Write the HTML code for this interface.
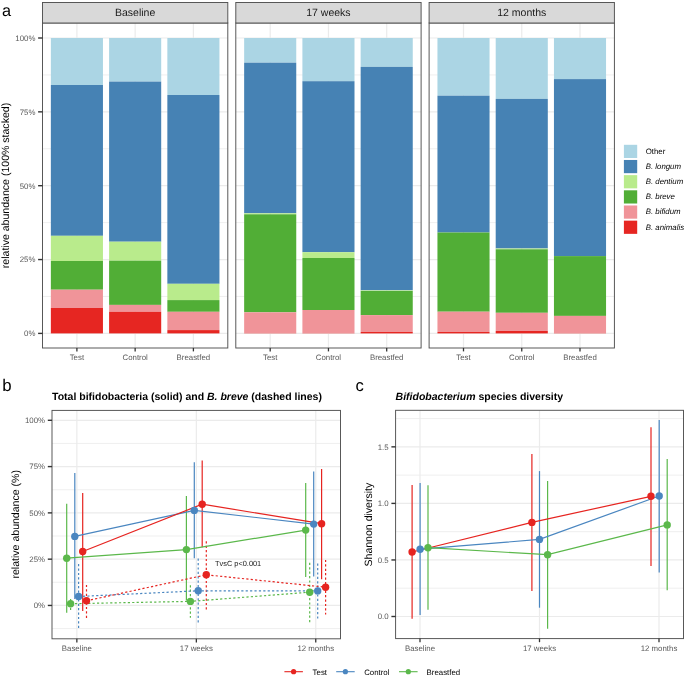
<!DOCTYPE html>
<html><head><meta charset="utf-8"><style>
html,body{margin:0;padding:0;background:#fff;}
body{width:685px;height:677px;overflow:hidden;}
svg{display:block;font-family:"Liberation Sans", sans-serif;will-change:transform;text-rendering:geometricPrecision;}
</style></head><body>
<svg width="685" height="677" viewBox="0 0 685 677">
<rect x="0" y="0" width="685" height="677" fill="#FFFFFF"/>
<text x="2.00" y="16.20" font-size="16.3" text-anchor="start" fill="#000" font-weight="normal" font-style="normal" >a</text>
<rect x="42.50" y="23.00" width="185.30" height="325.00" fill="#FFFFFF" />
<line x1="42.50" y1="296.47" x2="227.80" y2="296.47" stroke="#EBEBEB" stroke-width="0.8" />
<line x1="42.50" y1="222.62" x2="227.80" y2="222.62" stroke="#EBEBEB" stroke-width="0.8" />
<line x1="42.50" y1="148.77" x2="227.80" y2="148.77" stroke="#EBEBEB" stroke-width="0.8" />
<line x1="42.50" y1="74.93" x2="227.80" y2="74.93" stroke="#EBEBEB" stroke-width="0.8" />
<line x1="42.50" y1="333.40" x2="227.80" y2="333.40" stroke="#EBEBEB" stroke-width="1.2" />
<line x1="42.50" y1="259.55" x2="227.80" y2="259.55" stroke="#EBEBEB" stroke-width="1.2" />
<line x1="42.50" y1="185.70" x2="227.80" y2="185.70" stroke="#EBEBEB" stroke-width="1.2" />
<line x1="42.50" y1="111.85" x2="227.80" y2="111.85" stroke="#EBEBEB" stroke-width="1.2" />
<line x1="42.50" y1="38.00" x2="227.80" y2="38.00" stroke="#EBEBEB" stroke-width="1.2" />
<line x1="76.90" y1="23.00" x2="76.90" y2="348.00" stroke="#EBEBEB" stroke-width="1.2" />
<line x1="135.15" y1="23.00" x2="135.15" y2="348.00" stroke="#EBEBEB" stroke-width="1.2" />
<line x1="193.40" y1="23.00" x2="193.40" y2="348.00" stroke="#EBEBEB" stroke-width="1.2" />
<rect x="50.85" y="38.00" width="52.10" height="47.00" fill="#ABD5E4" />
<rect x="50.85" y="85.00" width="52.10" height="150.80" fill="#4682B4" />
<rect x="50.85" y="235.80" width="52.10" height="25.20" fill="#B9EB8C" />
<rect x="50.85" y="261.00" width="52.10" height="28.70" fill="#51AE36" />
<rect x="50.85" y="289.70" width="52.10" height="18.30" fill="#F09499" />
<rect x="50.85" y="308.00" width="52.10" height="25.40" fill="#E62622" />
<rect x="109.10" y="38.00" width="52.10" height="43.60" fill="#ABD5E4" />
<rect x="109.10" y="81.60" width="52.10" height="160.10" fill="#4682B4" />
<rect x="109.10" y="241.70" width="52.10" height="19.00" fill="#B9EB8C" />
<rect x="109.10" y="260.70" width="52.10" height="44.20" fill="#51AE36" />
<rect x="109.10" y="304.90" width="52.10" height="6.90" fill="#F09499" />
<rect x="109.10" y="311.80" width="52.10" height="21.60" fill="#E62622" />
<rect x="167.35" y="38.00" width="52.10" height="57.00" fill="#ABD5E4" />
<rect x="167.35" y="95.00" width="52.10" height="188.80" fill="#4682B4" />
<rect x="167.35" y="283.80" width="52.10" height="16.30" fill="#B9EB8C" />
<rect x="167.35" y="300.10" width="52.10" height="11.70" fill="#51AE36" />
<rect x="167.35" y="311.80" width="52.10" height="18.30" fill="#F09499" />
<rect x="167.35" y="330.10" width="52.10" height="3.30" fill="#E62622" />
<rect x="42.50" y="23.00" width="185.30" height="325.00" fill="none" stroke="#505050" stroke-width="0.95"/>
<rect x="42.50" y="2.50" width="185.30" height="20.50" fill="#D9D9D9" stroke="#505050" stroke-width="0.95"/>
<text x="135.15" y="15.80" font-size="10.5" text-anchor="middle" fill="#1A1A1A" font-weight="normal" font-style="normal" >Baseline</text>
<line x1="76.90" y1="348.00" x2="76.90" y2="351.40" stroke="#333333" stroke-width="1.3" />
<text x="76.90" y="360.40" font-size="7.85" text-anchor="middle" fill="#5A5A5A" font-weight="normal" font-style="normal" >Test</text>
<line x1="135.15" y1="348.00" x2="135.15" y2="351.40" stroke="#333333" stroke-width="1.3" />
<text x="135.15" y="360.40" font-size="7.85" text-anchor="middle" fill="#5A5A5A" font-weight="normal" font-style="normal" >Control</text>
<line x1="193.40" y1="348.00" x2="193.40" y2="351.40" stroke="#333333" stroke-width="1.3" />
<text x="193.40" y="360.40" font-size="7.85" text-anchor="middle" fill="#5A5A5A" font-weight="normal" font-style="normal" >Breastfed</text>
<rect x="235.80" y="23.00" width="185.30" height="325.00" fill="#FFFFFF" />
<line x1="235.80" y1="296.47" x2="421.10" y2="296.47" stroke="#EBEBEB" stroke-width="0.8" />
<line x1="235.80" y1="222.62" x2="421.10" y2="222.62" stroke="#EBEBEB" stroke-width="0.8" />
<line x1="235.80" y1="148.77" x2="421.10" y2="148.77" stroke="#EBEBEB" stroke-width="0.8" />
<line x1="235.80" y1="74.93" x2="421.10" y2="74.93" stroke="#EBEBEB" stroke-width="0.8" />
<line x1="235.80" y1="333.40" x2="421.10" y2="333.40" stroke="#EBEBEB" stroke-width="1.2" />
<line x1="235.80" y1="259.55" x2="421.10" y2="259.55" stroke="#EBEBEB" stroke-width="1.2" />
<line x1="235.80" y1="185.70" x2="421.10" y2="185.70" stroke="#EBEBEB" stroke-width="1.2" />
<line x1="235.80" y1="111.85" x2="421.10" y2="111.85" stroke="#EBEBEB" stroke-width="1.2" />
<line x1="235.80" y1="38.00" x2="421.10" y2="38.00" stroke="#EBEBEB" stroke-width="1.2" />
<line x1="270.20" y1="23.00" x2="270.20" y2="348.00" stroke="#EBEBEB" stroke-width="1.2" />
<line x1="328.45" y1="23.00" x2="328.45" y2="348.00" stroke="#EBEBEB" stroke-width="1.2" />
<line x1="386.70" y1="23.00" x2="386.70" y2="348.00" stroke="#EBEBEB" stroke-width="1.2" />
<rect x="244.15" y="38.00" width="52.10" height="24.70" fill="#ABD5E4" />
<rect x="244.15" y="62.70" width="52.10" height="150.60" fill="#4682B4" />
<rect x="244.15" y="213.30" width="52.10" height="1.00" fill="#B9EB8C" />
<rect x="244.15" y="214.30" width="52.10" height="98.00" fill="#51AE36" />
<rect x="244.15" y="312.30" width="52.10" height="20.90" fill="#F09499" />
<rect x="244.15" y="333.20" width="52.10" height="0.20" fill="#E62622" />
<rect x="302.40" y="38.00" width="52.10" height="43.20" fill="#ABD5E4" />
<rect x="302.40" y="81.20" width="52.10" height="171.00" fill="#4682B4" />
<rect x="302.40" y="252.20" width="52.10" height="5.80" fill="#B9EB8C" />
<rect x="302.40" y="258.00" width="52.10" height="52.00" fill="#51AE36" />
<rect x="302.40" y="310.00" width="52.10" height="23.20" fill="#F09499" />
<rect x="302.40" y="333.20" width="52.10" height="0.20" fill="#E62622" />
<rect x="360.65" y="38.00" width="52.10" height="28.90" fill="#ABD5E4" />
<rect x="360.65" y="66.90" width="52.10" height="223.50" fill="#4682B4" />
<rect x="360.65" y="290.40" width="52.10" height="0.60" fill="#B9EB8C" />
<rect x="360.65" y="291.00" width="52.10" height="24.10" fill="#51AE36" />
<rect x="360.65" y="315.10" width="52.10" height="16.90" fill="#F09499" />
<rect x="360.65" y="332.00" width="52.10" height="1.40" fill="#E62622" />
<rect x="235.80" y="23.00" width="185.30" height="325.00" fill="none" stroke="#505050" stroke-width="0.95"/>
<rect x="235.80" y="2.50" width="185.30" height="20.50" fill="#D9D9D9" stroke="#505050" stroke-width="0.95"/>
<text x="328.45" y="15.80" font-size="10.5" text-anchor="middle" fill="#1A1A1A" font-weight="normal" font-style="normal" >17 weeks</text>
<line x1="270.20" y1="348.00" x2="270.20" y2="351.40" stroke="#333333" stroke-width="1.3" />
<text x="270.20" y="360.40" font-size="7.85" text-anchor="middle" fill="#5A5A5A" font-weight="normal" font-style="normal" >Test</text>
<line x1="328.45" y1="348.00" x2="328.45" y2="351.40" stroke="#333333" stroke-width="1.3" />
<text x="328.45" y="360.40" font-size="7.85" text-anchor="middle" fill="#5A5A5A" font-weight="normal" font-style="normal" >Control</text>
<line x1="386.70" y1="348.00" x2="386.70" y2="351.40" stroke="#333333" stroke-width="1.3" />
<text x="386.70" y="360.40" font-size="7.85" text-anchor="middle" fill="#5A5A5A" font-weight="normal" font-style="normal" >Breastfed</text>
<rect x="429.10" y="23.00" width="185.30" height="325.00" fill="#FFFFFF" />
<line x1="429.10" y1="296.47" x2="614.40" y2="296.47" stroke="#EBEBEB" stroke-width="0.8" />
<line x1="429.10" y1="222.62" x2="614.40" y2="222.62" stroke="#EBEBEB" stroke-width="0.8" />
<line x1="429.10" y1="148.77" x2="614.40" y2="148.77" stroke="#EBEBEB" stroke-width="0.8" />
<line x1="429.10" y1="74.93" x2="614.40" y2="74.93" stroke="#EBEBEB" stroke-width="0.8" />
<line x1="429.10" y1="333.40" x2="614.40" y2="333.40" stroke="#EBEBEB" stroke-width="1.2" />
<line x1="429.10" y1="259.55" x2="614.40" y2="259.55" stroke="#EBEBEB" stroke-width="1.2" />
<line x1="429.10" y1="185.70" x2="614.40" y2="185.70" stroke="#EBEBEB" stroke-width="1.2" />
<line x1="429.10" y1="111.85" x2="614.40" y2="111.85" stroke="#EBEBEB" stroke-width="1.2" />
<line x1="429.10" y1="38.00" x2="614.40" y2="38.00" stroke="#EBEBEB" stroke-width="1.2" />
<line x1="463.50" y1="23.00" x2="463.50" y2="348.00" stroke="#EBEBEB" stroke-width="1.2" />
<line x1="521.75" y1="23.00" x2="521.75" y2="348.00" stroke="#EBEBEB" stroke-width="1.2" />
<line x1="580.00" y1="23.00" x2="580.00" y2="348.00" stroke="#EBEBEB" stroke-width="1.2" />
<rect x="437.45" y="38.00" width="52.10" height="57.70" fill="#ABD5E4" />
<rect x="437.45" y="95.70" width="52.10" height="136.80" fill="#4682B4" />
<rect x="437.45" y="232.50" width="52.10" height="79.20" fill="#51AE36" />
<rect x="437.45" y="311.70" width="52.10" height="20.30" fill="#F09499" />
<rect x="437.45" y="332.00" width="52.10" height="1.40" fill="#E62622" />
<rect x="495.70" y="38.00" width="52.10" height="60.90" fill="#ABD5E4" />
<rect x="495.70" y="98.90" width="52.10" height="149.60" fill="#4682B4" />
<rect x="495.70" y="248.50" width="52.10" height="0.80" fill="#B9EB8C" />
<rect x="495.70" y="249.30" width="52.10" height="63.50" fill="#51AE36" />
<rect x="495.70" y="312.80" width="52.10" height="18.20" fill="#F09499" />
<rect x="495.70" y="331.00" width="52.10" height="2.40" fill="#E62622" />
<rect x="553.95" y="38.00" width="52.10" height="41.10" fill="#ABD5E4" />
<rect x="553.95" y="79.10" width="52.10" height="177.00" fill="#4682B4" />
<rect x="553.95" y="256.10" width="52.10" height="59.80" fill="#51AE36" />
<rect x="553.95" y="315.90" width="52.10" height="17.30" fill="#F09499" />
<rect x="553.95" y="333.20" width="52.10" height="0.20" fill="#E62622" />
<rect x="429.10" y="23.00" width="185.30" height="325.00" fill="none" stroke="#505050" stroke-width="0.95"/>
<rect x="429.10" y="2.50" width="185.30" height="20.50" fill="#D9D9D9" stroke="#505050" stroke-width="0.95"/>
<text x="521.75" y="15.80" font-size="10.5" text-anchor="middle" fill="#1A1A1A" font-weight="normal" font-style="normal" >12 months</text>
<line x1="463.50" y1="348.00" x2="463.50" y2="351.40" stroke="#333333" stroke-width="1.3" />
<text x="463.50" y="360.40" font-size="7.85" text-anchor="middle" fill="#5A5A5A" font-weight="normal" font-style="normal" >Test</text>
<line x1="521.75" y1="348.00" x2="521.75" y2="351.40" stroke="#333333" stroke-width="1.3" />
<text x="521.75" y="360.40" font-size="7.85" text-anchor="middle" fill="#5A5A5A" font-weight="normal" font-style="normal" >Control</text>
<line x1="580.00" y1="348.00" x2="580.00" y2="351.40" stroke="#333333" stroke-width="1.3" />
<text x="580.00" y="360.40" font-size="7.85" text-anchor="middle" fill="#5A5A5A" font-weight="normal" font-style="normal" >Breastfed</text>
<line x1="38.10" y1="38.00" x2="42.50" y2="38.00" stroke="#333333" stroke-width="1.4" />
<text x="35.40" y="40.80" font-size="7.85" text-anchor="end" fill="#5A5A5A" font-weight="normal" font-style="normal" >100%</text>
<line x1="38.10" y1="111.85" x2="42.50" y2="111.85" stroke="#333333" stroke-width="1.4" />
<text x="35.40" y="114.65" font-size="7.85" text-anchor="end" fill="#5A5A5A" font-weight="normal" font-style="normal" >75%</text>
<line x1="38.10" y1="185.70" x2="42.50" y2="185.70" stroke="#333333" stroke-width="1.4" />
<text x="35.40" y="188.50" font-size="7.85" text-anchor="end" fill="#5A5A5A" font-weight="normal" font-style="normal" >50%</text>
<line x1="38.10" y1="259.55" x2="42.50" y2="259.55" stroke="#333333" stroke-width="1.4" />
<text x="35.40" y="262.35" font-size="7.85" text-anchor="end" fill="#5A5A5A" font-weight="normal" font-style="normal" >25%</text>
<line x1="38.10" y1="333.40" x2="42.50" y2="333.40" stroke="#333333" stroke-width="1.4" />
<text x="35.40" y="336.20" font-size="7.85" text-anchor="end" fill="#5A5A5A" font-weight="normal" font-style="normal" >0%</text>
<text x="0.00" y="0.00" font-size="10.56" text-anchor="middle" fill="#000" font-weight="normal" font-style="normal" transform="translate(9.4 185.5) rotate(-90)">relative abundance (100% stacked)</text>
<rect x="623.90" y="144.80" width="13.30" height="13.20" fill="#ABD5E4" />
<text x="645.70" y="153.65" font-size="7.85" text-anchor="start" fill="#000" font-weight="normal" font-style="normal" >Other</text>
<rect x="623.90" y="159.97" width="13.30" height="13.20" fill="#4682B4" />
<text x="645.70" y="168.82" font-size="7.85" text-anchor="start" fill="#000" font-weight="normal" font-style="italic" >B. longum</text>
<rect x="623.90" y="175.14" width="13.30" height="13.20" fill="#B9EB8C" />
<text x="645.70" y="183.99" font-size="7.85" text-anchor="start" fill="#000" font-weight="normal" font-style="italic" >B. dentium</text>
<rect x="623.90" y="190.31" width="13.30" height="13.20" fill="#51AE36" />
<text x="645.70" y="199.16" font-size="7.85" text-anchor="start" fill="#000" font-weight="normal" font-style="italic" >B. breve</text>
<rect x="623.90" y="205.48" width="13.30" height="13.20" fill="#F09499" />
<text x="645.70" y="214.33" font-size="7.85" text-anchor="start" fill="#000" font-weight="normal" font-style="italic" >B. bifidum</text>
<rect x="623.90" y="220.65" width="13.30" height="13.20" fill="#E62622" />
<text x="645.70" y="229.50" font-size="7.85" text-anchor="start" fill="#000" font-weight="normal" font-style="italic" >B. animalis</text>
<text x="2.20" y="390.80" font-size="16.8" text-anchor="start" fill="#000" font-weight="normal" font-style="normal" >b</text>
<rect x="52.00" y="410.40" width="288.50" height="228.40" fill="#FFFFFF" />
<line x1="52.00" y1="628.59" x2="340.50" y2="628.59" stroke="#EBEBEB" stroke-width="0.8" />
<line x1="52.00" y1="582.31" x2="340.50" y2="582.31" stroke="#EBEBEB" stroke-width="0.8" />
<line x1="52.00" y1="536.02" x2="340.50" y2="536.02" stroke="#EBEBEB" stroke-width="0.8" />
<line x1="52.00" y1="489.73" x2="340.50" y2="489.73" stroke="#EBEBEB" stroke-width="0.8" />
<line x1="52.00" y1="443.44" x2="340.50" y2="443.44" stroke="#EBEBEB" stroke-width="0.8" />
<line x1="52.00" y1="605.45" x2="340.50" y2="605.45" stroke="#EBEBEB" stroke-width="1.2" />
<line x1="52.00" y1="559.16" x2="340.50" y2="559.16" stroke="#EBEBEB" stroke-width="1.2" />
<line x1="52.00" y1="512.88" x2="340.50" y2="512.88" stroke="#EBEBEB" stroke-width="1.2" />
<line x1="52.00" y1="466.59" x2="340.50" y2="466.59" stroke="#EBEBEB" stroke-width="1.2" />
<line x1="52.00" y1="420.30" x2="340.50" y2="420.30" stroke="#EBEBEB" stroke-width="1.2" />
<line x1="76.85" y1="410.40" x2="76.85" y2="638.80" stroke="#EBEBEB" stroke-width="1.2" />
<line x1="196.35" y1="410.40" x2="196.35" y2="638.80" stroke="#EBEBEB" stroke-width="1.2" />
<line x1="315.75" y1="410.40" x2="315.75" y2="638.80" stroke="#EBEBEB" stroke-width="1.2" />
<line x1="66.70" y1="503.80" x2="66.70" y2="612.70" stroke="#5BB84B" stroke-width="1.2" />
<line x1="186.40" y1="496.10" x2="186.40" y2="600.40" stroke="#5BB84B" stroke-width="1.2" />
<line x1="305.70" y1="482.90" x2="305.70" y2="576.90" stroke="#5BB84B" stroke-width="1.2" />
<line x1="70.60" y1="599.00" x2="70.60" y2="610.00" stroke="#5BB84B" stroke-width="1.2" stroke-dasharray="2.2 2.2"/>
<line x1="190.40" y1="585.20" x2="190.40" y2="617.70" stroke="#5BB84B" stroke-width="1.2" stroke-dasharray="2.2 2.2"/>
<line x1="309.70" y1="562.80" x2="309.70" y2="623.70" stroke="#5BB84B" stroke-width="1.2" stroke-dasharray="2.2 2.2"/>
<line x1="74.80" y1="473.00" x2="74.80" y2="599.00" stroke="#4A86C0" stroke-width="1.2" />
<line x1="194.30" y1="462.20" x2="194.30" y2="558.30" stroke="#4A86C0" stroke-width="1.2" />
<line x1="313.70" y1="471.50" x2="313.70" y2="576.50" stroke="#4A86C0" stroke-width="1.2" />
<line x1="78.60" y1="564.10" x2="78.60" y2="628.60" stroke="#4A86C0" stroke-width="1.2" stroke-dasharray="2.2 2.2"/>
<line x1="198.20" y1="558.60" x2="198.20" y2="623.70" stroke="#4A86C0" stroke-width="1.2" stroke-dasharray="2.2 2.2"/>
<line x1="317.70" y1="563.60" x2="317.70" y2="618.40" stroke="#4A86C0" stroke-width="1.2" stroke-dasharray="2.2 2.2"/>
<line x1="82.70" y1="492.90" x2="82.70" y2="610.90" stroke="#E62420" stroke-width="1.2" />
<line x1="202.20" y1="460.40" x2="202.20" y2="547.30" stroke="#E62420" stroke-width="1.2" />
<line x1="321.60" y1="469.00" x2="321.60" y2="579.20" stroke="#E62420" stroke-width="1.2" />
<line x1="86.50" y1="584.90" x2="86.50" y2="618.60" stroke="#E62420" stroke-width="1.2" stroke-dasharray="2.2 2.2"/>
<line x1="206.30" y1="541.30" x2="206.30" y2="610.40" stroke="#E62420" stroke-width="1.2" stroke-dasharray="2.2 2.2"/>
<line x1="325.60" y1="559.90" x2="325.60" y2="614.40" stroke="#E62420" stroke-width="1.2" stroke-dasharray="2.2 2.2"/>
<polyline points="66.70,558.20 186.40,549.60 305.70,530.10" fill="none" stroke="#5BB84B" stroke-width="1.2" />
<polyline points="70.60,603.70 190.40,601.40 309.70,592.20" fill="none" stroke="#5BB84B" stroke-width="1.2" stroke-dasharray="2.2 2.2"/>
<polyline points="74.80,536.40 194.30,510.40 313.70,524.10" fill="none" stroke="#4A86C0" stroke-width="1.2" />
<polyline points="78.60,596.50 198.20,590.80 317.70,590.90" fill="none" stroke="#4A86C0" stroke-width="1.2" stroke-dasharray="2.2 2.2"/>
<polyline points="82.70,551.50 202.20,504.20 321.60,523.70" fill="none" stroke="#E62420" stroke-width="1.2" />
<polyline points="86.50,600.80 206.30,574.80 325.60,587.20" fill="none" stroke="#E62420" stroke-width="1.2" stroke-dasharray="2.2 2.2"/>
<circle cx="66.70" cy="558.20" r="3.7" fill="#5BB84B"/>
<circle cx="186.40" cy="549.60" r="3.7" fill="#5BB84B"/>
<circle cx="305.70" cy="530.10" r="3.7" fill="#5BB84B"/>
<circle cx="70.60" cy="603.70" r="3.7" fill="#5BB84B"/>
<circle cx="190.40" cy="601.40" r="3.7" fill="#5BB84B"/>
<circle cx="309.70" cy="592.20" r="3.7" fill="#5BB84B"/>
<circle cx="74.80" cy="536.40" r="3.7" fill="#4A86C0"/>
<circle cx="194.30" cy="510.40" r="3.7" fill="#4A86C0"/>
<circle cx="313.70" cy="524.10" r="3.7" fill="#4A86C0"/>
<circle cx="78.60" cy="596.50" r="3.7" fill="#4A86C0"/>
<circle cx="198.20" cy="590.80" r="3.7" fill="#4A86C0"/>
<circle cx="317.70" cy="590.90" r="3.7" fill="#4A86C0"/>
<circle cx="82.70" cy="551.50" r="3.7" fill="#E62420"/>
<circle cx="202.20" cy="504.20" r="3.7" fill="#E62420"/>
<circle cx="321.60" cy="523.70" r="3.7" fill="#E62420"/>
<circle cx="86.50" cy="600.80" r="3.7" fill="#E62420"/>
<circle cx="206.30" cy="574.80" r="3.7" fill="#E62420"/>
<circle cx="325.60" cy="587.20" r="3.7" fill="#E62420"/>
<rect x="52.00" y="410.40" width="288.50" height="228.40" fill="none" stroke="#505050" stroke-width="0.95"/>
<text x="215.00" y="565.80" font-size="7.4" text-anchor="start" fill="#1A1A1A" font-weight="normal" font-style="normal" >TvsC p&lt;0.001</text>
<line x1="47.80" y1="420.30" x2="52.00" y2="420.30" stroke="#333333" stroke-width="1.4" />
<text x="45.00" y="423.10" font-size="7.85" text-anchor="end" fill="#5A5A5A" font-weight="normal" font-style="normal" >100%</text>
<line x1="47.80" y1="466.59" x2="52.00" y2="466.59" stroke="#333333" stroke-width="1.4" />
<text x="45.00" y="469.39" font-size="7.85" text-anchor="end" fill="#5A5A5A" font-weight="normal" font-style="normal" >75%</text>
<line x1="47.80" y1="512.88" x2="52.00" y2="512.88" stroke="#333333" stroke-width="1.4" />
<text x="45.00" y="515.67" font-size="7.85" text-anchor="end" fill="#5A5A5A" font-weight="normal" font-style="normal" >50%</text>
<line x1="47.80" y1="559.16" x2="52.00" y2="559.16" stroke="#333333" stroke-width="1.4" />
<text x="45.00" y="561.96" font-size="7.85" text-anchor="end" fill="#5A5A5A" font-weight="normal" font-style="normal" >25%</text>
<line x1="47.80" y1="605.45" x2="52.00" y2="605.45" stroke="#333333" stroke-width="1.4" />
<text x="45.00" y="608.25" font-size="7.85" text-anchor="end" fill="#5A5A5A" font-weight="normal" font-style="normal" >0%</text>
<line x1="76.85" y1="638.80" x2="76.85" y2="642.40" stroke="#333333" stroke-width="1.3" />
<text x="76.85" y="650.90" font-size="7.85" text-anchor="middle" fill="#5A5A5A" font-weight="normal" font-style="normal" >Baseline</text>
<line x1="196.35" y1="638.80" x2="196.35" y2="642.40" stroke="#333333" stroke-width="1.3" />
<text x="196.35" y="650.90" font-size="7.85" text-anchor="middle" fill="#5A5A5A" font-weight="normal" font-style="normal" >17 weeks</text>
<line x1="315.75" y1="638.80" x2="315.75" y2="642.40" stroke="#333333" stroke-width="1.3" />
<text x="315.75" y="650.90" font-size="7.85" text-anchor="middle" fill="#5A5A5A" font-weight="normal" font-style="normal" >12 months</text>
<text x="0.00" y="0.00" font-size="10.56" text-anchor="middle" fill="#000" font-weight="normal" font-style="normal" transform="translate(19.0 524.3) rotate(-90)">relative abundance (%)</text>
<text x="52.0" y="400.2" font-size="10.5" font-weight="bold" fill="#000">Total bifidobacteria (solid) and <tspan font-style="italic">B. breve</tspan> (dashed lines)</text>
<text x="355.40" y="390.70" font-size="16.6" text-anchor="start" fill="#000" font-weight="normal" font-style="normal" >c</text>
<rect x="395.60" y="410.30" width="287.90" height="228.30" fill="#FFFFFF" />
<line x1="395.60" y1="588.23" x2="683.50" y2="588.23" stroke="#EBEBEB" stroke-width="0.8" />
<line x1="395.60" y1="531.67" x2="683.50" y2="531.67" stroke="#EBEBEB" stroke-width="0.8" />
<line x1="395.60" y1="475.12" x2="683.50" y2="475.12" stroke="#EBEBEB" stroke-width="0.8" />
<line x1="395.60" y1="418.58" x2="683.50" y2="418.58" stroke="#EBEBEB" stroke-width="0.8" />
<line x1="395.60" y1="616.50" x2="683.50" y2="616.50" stroke="#EBEBEB" stroke-width="1.2" />
<line x1="395.60" y1="559.95" x2="683.50" y2="559.95" stroke="#EBEBEB" stroke-width="1.2" />
<line x1="395.60" y1="503.40" x2="683.50" y2="503.40" stroke="#EBEBEB" stroke-width="1.2" />
<line x1="395.60" y1="446.85" x2="683.50" y2="446.85" stroke="#EBEBEB" stroke-width="1.2" />
<line x1="420.00" y1="410.30" x2="420.00" y2="638.60" stroke="#EBEBEB" stroke-width="1.2" />
<line x1="539.50" y1="410.30" x2="539.50" y2="638.60" stroke="#EBEBEB" stroke-width="1.2" />
<line x1="659.00" y1="410.30" x2="659.00" y2="638.60" stroke="#EBEBEB" stroke-width="1.2" />
<line x1="412.10" y1="485.00" x2="412.10" y2="618.70" stroke="#E62420" stroke-width="1.2" />
<line x1="531.90" y1="454.10" x2="531.90" y2="591.00" stroke="#E62420" stroke-width="1.2" />
<line x1="651.00" y1="427.30" x2="651.00" y2="565.90" stroke="#E62420" stroke-width="1.2" />
<line x1="420.10" y1="483.00" x2="420.10" y2="614.90" stroke="#4A86C0" stroke-width="1.2" />
<line x1="539.50" y1="471.10" x2="539.50" y2="607.70" stroke="#4A86C0" stroke-width="1.2" />
<line x1="659.20" y1="419.90" x2="659.20" y2="572.40" stroke="#4A86C0" stroke-width="1.2" />
<line x1="428.00" y1="485.30" x2="428.00" y2="609.70" stroke="#5BB84B" stroke-width="1.2" />
<line x1="547.60" y1="481.00" x2="547.60" y2="628.70" stroke="#5BB84B" stroke-width="1.2" />
<line x1="667.20" y1="459.10" x2="667.20" y2="590.20" stroke="#5BB84B" stroke-width="1.2" />
<polyline points="412.10,552.00 531.90,522.40 651.00,496.30" fill="none" stroke="#E62420" stroke-width="1.2" />
<polyline points="420.10,549.20 539.50,539.40 659.20,496.00" fill="none" stroke="#4A86C0" stroke-width="1.2" />
<polyline points="428.00,547.70 547.60,554.70 667.20,524.90" fill="none" stroke="#5BB84B" stroke-width="1.2" />
<circle cx="412.10" cy="552.00" r="3.7" fill="#E62420"/>
<circle cx="531.90" cy="522.40" r="3.7" fill="#E62420"/>
<circle cx="651.00" cy="496.30" r="3.7" fill="#E62420"/>
<circle cx="420.10" cy="549.20" r="3.7" fill="#4A86C0"/>
<circle cx="539.50" cy="539.40" r="3.7" fill="#4A86C0"/>
<circle cx="659.20" cy="496.00" r="3.7" fill="#4A86C0"/>
<circle cx="428.00" cy="547.70" r="3.7" fill="#5BB84B"/>
<circle cx="547.60" cy="554.70" r="3.7" fill="#5BB84B"/>
<circle cx="667.20" cy="524.90" r="3.7" fill="#5BB84B"/>
<rect x="395.60" y="410.30" width="287.90" height="228.30" fill="none" stroke="#505050" stroke-width="0.95"/>
<line x1="391.40" y1="446.85" x2="395.60" y2="446.85" stroke="#333333" stroke-width="1.4" />
<text x="388.60" y="449.65" font-size="7.85" text-anchor="end" fill="#5A5A5A" font-weight="normal" font-style="normal" >1.5</text>
<line x1="391.40" y1="503.40" x2="395.60" y2="503.40" stroke="#333333" stroke-width="1.4" />
<text x="388.60" y="506.20" font-size="7.85" text-anchor="end" fill="#5A5A5A" font-weight="normal" font-style="normal" >1.0</text>
<line x1="391.40" y1="559.95" x2="395.60" y2="559.95" stroke="#333333" stroke-width="1.4" />
<text x="388.60" y="562.75" font-size="7.85" text-anchor="end" fill="#5A5A5A" font-weight="normal" font-style="normal" >0.5</text>
<line x1="391.40" y1="616.50" x2="395.60" y2="616.50" stroke="#333333" stroke-width="1.4" />
<text x="388.60" y="619.30" font-size="7.85" text-anchor="end" fill="#5A5A5A" font-weight="normal" font-style="normal" >0.0</text>
<line x1="420.00" y1="638.60" x2="420.00" y2="642.20" stroke="#333333" stroke-width="1.3" />
<text x="420.00" y="650.90" font-size="7.85" text-anchor="middle" fill="#5A5A5A" font-weight="normal" font-style="normal" >Baseline</text>
<line x1="539.50" y1="638.60" x2="539.50" y2="642.20" stroke="#333333" stroke-width="1.3" />
<text x="539.50" y="650.90" font-size="7.85" text-anchor="middle" fill="#5A5A5A" font-weight="normal" font-style="normal" >17 weeks</text>
<line x1="659.00" y1="638.60" x2="659.00" y2="642.20" stroke="#333333" stroke-width="1.3" />
<text x="659.00" y="650.90" font-size="7.85" text-anchor="middle" fill="#5A5A5A" font-weight="normal" font-style="normal" >12 months</text>
<text x="0.00" y="0.00" font-size="10.56" text-anchor="middle" fill="#000" font-weight="normal" font-style="normal" transform="translate(371.8 524.6) rotate(-90)">Shannon diversity</text>
<text x="395.6" y="400.2" font-size="10.5" font-weight="bold" fill="#000"><tspan font-style="italic">Bifidobacterium</tspan> species diversity</text>
<line x1="284.40" y1="671.70" x2="302.90" y2="671.70" stroke="#E62420" stroke-width="1.1" />
<circle cx="293.60" cy="671.7" r="2.6" fill="#E62420"/>
<text x="312.60" y="674.70" font-size="7.85" text-anchor="start" fill="#000" font-weight="normal" font-style="normal" >Test</text>
<line x1="336.20" y1="671.70" x2="354.70" y2="671.70" stroke="#4A86C0" stroke-width="1.1" />
<circle cx="345.40" cy="671.7" r="2.6" fill="#4A86C0"/>
<text x="364.20" y="674.70" font-size="7.85" text-anchor="start" fill="#000" font-weight="normal" font-style="normal" >Control</text>
<line x1="399.00" y1="671.70" x2="417.60" y2="671.70" stroke="#5BB84B" stroke-width="1.1" />
<circle cx="408.30" cy="671.7" r="2.6" fill="#5BB84B"/>
<text x="426.60" y="674.70" font-size="7.85" text-anchor="start" fill="#000" font-weight="normal" font-style="normal" >Breastfed</text>
</svg>
</body></html>
